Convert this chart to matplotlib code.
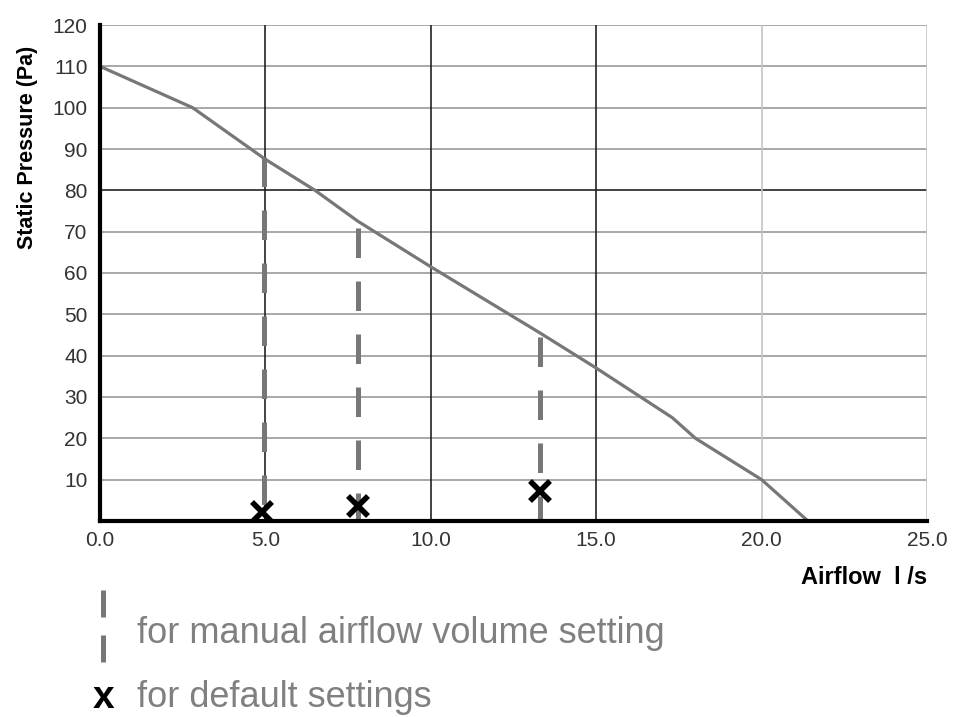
import matplotlib
matplotlib.use('Agg')
from matplotlib import pyplot as plt

plt.rcParams['font.family'] = ['Liberation Sans', 'DejaVu Sans']

# fan curve
airflow = [0.0, 2.8, 5.0, 6.5, 7.8, 10.0, 13.3, 15.0, 17.3, 18.0, 20.0, 21.4]
pressure = [110, 100, 87.5, 80, 72.5, 61.5, 45.5, 37, 25, 20, 10, 0]

# manual setting lines
manual_x = [4.95, 7.8, 13.3]
manual_top = [88, 71, 44.5]

# default setting points
default_x = [4.9, 7.8, 13.3]
default_y = [2.2, 3.6, 7.3]

x_ticks = [0, 5, 10, 15, 20, 25]
y_ticks = [10, 20, 30, 40, 50, 60, 70, 80, 90, 100, 110, 120]
dark_y = [80]
dark_x = [5, 10, 15]

gray = '#777777'

fig = plt.figure(figsize=(9.55, 7.17), dpi=100)
ax = fig.add_axes([0.1047, 0.2734, 0.866, 0.6917])

# grid lines drawn by hand, some darker than others
for y in y_ticks:
    c = '#222222' if y in dark_y else '#9a9a9a'
    ax.axhline(y, color=c, lw=1.2, zorder=1)
for x in x_ticks[1:]:
    c = '#222222' if x in dark_x else '#c4c4c4'
    ax.axvline(x, color=c, lw=1.2, zorder=1)

ax.plot(airflow, pressure, color=gray, lw=2.3, zorder=3)

# dashes start at the curve and go down
for mx, mt in zip(manual_x, manual_top):
    ax.plot([mx, mx], [mt, 0], color=gray, lw=3.6, dashes=(5.9, 4.7), zorder=2)

ax.plot(default_x, default_y, 'x', color='black', ms=14, mew=4, ls='none', zorder=4)

ax.set_xlim(0, 25)
ax.set_ylim(0, 120)
ax.set_xticks(x_ticks)
ax.set_xticklabels(['%.1f' % v for v in x_ticks])
ax.set_yticks(y_ticks)
ax.tick_params(length=0, labelsize=15, colors='#333333', pad=7)
ax.tick_params(axis='y', pad=9)

for s in ['top', 'right']:
    ax.spines[s].set_visible(False)
ax.spines['left'].set_linewidth(3)
ax.spines['bottom'].set_linewidth(3)
ax.spines['left'].set_zorder(5)
ax.spines['bottom'].set_zorder(5)

fig.text(0.029, 0.794, 'Static Pressure (Pa)', fontsize=15.5, fontweight='bold',
         rotation=90, ha='center', va='center')
fig.text(0.9707, 0.195, 'Airflow  l /s', fontsize=17, fontweight='bold', ha='right', va='center')

# legend below the chart
fig.add_artist(plt.Line2D([0.108, 0.108], [0.177, 0.076], color=gray, lw=3.6, dashes=(5.4, 3.6)))
fig.text(0.143, 0.117, 'for manual airflow volume setting', fontsize=26, color='#808080', va='center')
fig.text(0.108, 0.027, 'x', fontsize=28, fontweight='bold', color='black', ha='center', va='center')
fig.text(0.143, 0.027, 'for default settings', fontsize=26, color='#808080', va='center')

plt.savefig('out.png', dpi=100)
